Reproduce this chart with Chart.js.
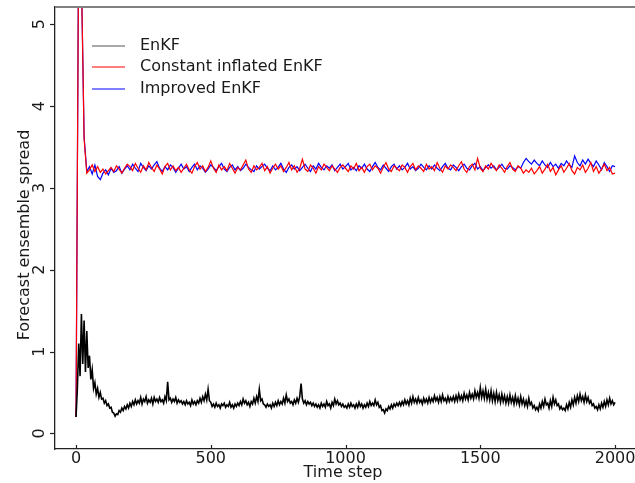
<!DOCTYPE html>
<html lang="en">
<head>
  <meta charset="UTF-8" />
  <title>Forecast ensemble spread</title>
  <script src="https://cdn.jsdelivr.net/npm/chart.js"></script>
  <style>
    * { margin: 0; padding: 0; box-sizing: border-box; }
    body { background: #fff; }
    .wrap { width: 635px; height: 483px; position: relative; }
  </style>
</head>
<body>
  <div class="wrap">
    <canvas id="spreadChart"></canvas>
  </div>

  <script>
    // legend labels
    const seriesNames = ['EnKF', 'Constant inflated EnKF', 'Improved EnKF'];
    const seriesColors = ['#000000', '#ff0000', '#0000ff'];
    const xTicks = [0, 500, 1000, 1500, 2000];
    const yTicks = [0, 1, 2, 3, 4, 5];

    // EnKF spread, one value every 5 time steps (t = 0 .. 2000)
    const enkfStep = 5;
    const enkf = [
      0.20, 0.55, 1.10, 0.70, 1.46, 0.85, 1.38, 0.75, 1.25, 0.80, 0.95, 0.66, 0.78, 0.55, 0.62, 0.48, 0.55, 0.44, 0.50, 0.42,
      0.43, 0.37, 0.40, 0.34, 0.36, 0.31, 0.32, 0.26, 0.25, 0.21, 0.24, 0.23, 0.28, 0.26, 0.31, 0.28, 0.33, 0.30, 0.35, 0.31,
      0.37, 0.33, 0.39, 0.35, 0.41, 0.36, 0.40, 0.37, 0.44, 0.36, 0.42, 0.39, 0.45, 0.37, 0.41, 0.38, 0.43, 0.36, 0.44, 0.39,
      0.42, 0.38, 0.44, 0.39, 0.41, 0.37, 0.45, 0.40, 0.63, 0.41, 0.43, 0.38, 0.42, 0.39, 0.44, 0.37, 0.41, 0.38, 0.40, 0.36,
      0.39, 0.35, 0.40, 0.36, 0.38, 0.34, 0.41, 0.36, 0.39, 0.35, 0.40, 0.37, 0.43, 0.38, 0.45, 0.40, 0.48, 0.41, 0.54, 0.40,
      0.38, 0.33, 0.36, 0.32, 0.37, 0.33, 0.35, 0.31, 0.36, 0.34, 0.37, 0.32, 0.35, 0.33, 0.38, 0.32, 0.35, 0.31, 0.36, 0.33,
      0.37, 0.34, 0.39, 0.35, 0.42, 0.37, 0.40, 0.35, 0.38, 0.33, 0.39, 0.36, 0.43, 0.37, 0.45, 0.39, 0.54, 0.40, 0.42, 0.36,
      0.35, 0.32, 0.36, 0.33, 0.35, 0.31, 0.37, 0.33, 0.38, 0.34, 0.40, 0.35, 0.39, 0.36, 0.43, 0.37, 0.47, 0.39, 0.42, 0.37,
      0.39, 0.35, 0.41, 0.37, 0.43, 0.38, 0.45, 0.61, 0.42, 0.37, 0.40, 0.35, 0.39, 0.36, 0.38, 0.34, 0.37, 0.33, 0.36, 0.32,
      0.35, 0.31, 0.37, 0.33, 0.36, 0.32, 0.39, 0.34, 0.36, 0.31, 0.38, 0.34, 0.42, 0.36, 0.40, 0.35, 0.37, 0.33, 0.36, 0.32,
      0.34, 0.31, 0.36, 0.32, 0.37, 0.33, 0.35, 0.31, 0.36, 0.32, 0.38, 0.33, 0.36, 0.31, 0.35, 0.32, 0.37, 0.33, 0.39, 0.34,
      0.37, 0.34, 0.41, 0.35, 0.38, 0.32, 0.34, 0.28, 0.29, 0.25, 0.30, 0.28, 0.33, 0.30, 0.35, 0.31, 0.36, 0.33, 0.37, 0.34,
      0.38, 0.34, 0.39, 0.35, 0.41, 0.36, 0.40, 0.35, 0.43, 0.37, 0.45, 0.38, 0.42, 0.37, 0.44, 0.38, 0.41, 0.36, 0.43, 0.38,
      0.42, 0.37, 0.44, 0.38, 0.43, 0.39, 0.46, 0.40, 0.44, 0.38, 0.45, 0.39, 0.47, 0.40, 0.43, 0.38, 0.45, 0.39, 0.44, 0.40,
      0.45, 0.39, 0.46, 0.40, 0.48, 0.41, 0.46, 0.40, 0.49, 0.42, 0.47, 0.41, 0.50, 0.43, 0.48, 0.42, 0.52, 0.44, 0.50, 0.43,
      0.56, 0.44, 0.52, 0.43, 0.54, 0.42, 0.50, 0.41, 0.52, 0.40, 0.49, 0.39, 0.50, 0.40, 0.47, 0.38, 0.48, 0.39, 0.46, 0.37,
      0.45, 0.37, 0.47, 0.38, 0.44, 0.36, 0.46, 0.37, 0.43, 0.35, 0.45, 0.36, 0.42, 0.34, 0.40, 0.33, 0.43, 0.35, 0.38, 0.31,
      0.34, 0.29, 0.32, 0.28, 0.36, 0.31, 0.39, 0.33, 0.42, 0.35, 0.37, 0.31, 0.40, 0.33, 0.44, 0.36, 0.41, 0.34, 0.36, 0.30,
      0.33, 0.29, 0.31, 0.28, 0.35, 0.30, 0.38, 0.32, 0.41, 0.35, 0.44, 0.37, 0.46, 0.39, 0.48, 0.40, 0.45, 0.38, 0.47, 0.39,
      0.44, 0.37, 0.40, 0.34, 0.36, 0.31, 0.33, 0.29, 0.35, 0.30, 0.37, 0.32, 0.39, 0.33, 0.41, 0.35, 0.43, 0.36, 0.40, 0.35,
      0.38
    ];

    // constant inflated / improved EnKF, one value every 10 time steps
    const inflStep = 10;
    const constInfl = [
      0.20, 6.20, 5.60, 3.60, 3.18, 3.22, 3.28, 3.20, 3.26, 3.19, 3.23, 3.17, 3.21, 3.25, 3.20, 3.27, 3.23, 3.18, 3.24, 3.29,
      3.26, 3.21, 3.30, 3.24, 3.19, 3.27, 3.22, 3.31, 3.25, 3.20, 3.28, 3.23, 3.17, 3.26, 3.30, 3.22, 3.27, 3.21, 3.25, 3.19,
      3.24, 3.29, 3.22, 3.18, 3.26, 3.31, 3.23, 3.27, 3.20, 3.25, 3.33, 3.24, 3.19, 3.28, 3.22, 3.26, 3.21, 3.30, 3.24, 3.18,
      3.25, 3.22, 3.28, 3.34, 3.23, 3.19, 3.27, 3.22, 3.25, 3.30, 3.21, 3.26, 3.18, 3.24, 3.29, 3.23, 3.27, 3.20, 3.25, 3.31,
      3.22, 3.27, 3.19, 3.24, 3.35, 3.23, 3.20, 3.28, 3.24, 3.18, 3.26, 3.22, 3.29, 3.25, 3.21, 3.27, 3.23, 3.19, 3.25, 3.28,
      3.24, 3.20, 3.27, 3.23, 3.30, 3.21, 3.25, 3.19, 3.26, 3.29, 3.22, 3.27, 3.24, 3.18, 3.25, 3.31, 3.23, 3.20, 3.27, 3.24,
      3.21, 3.28, 3.25, 3.19, 3.26, 3.30, 3.22, 3.27, 3.24, 3.20, 3.29, 3.23, 3.26, 3.21, 3.31, 3.24, 3.19, 3.27, 3.23, 3.28,
      3.25, 3.21, 3.27, 3.32, 3.23, 3.19, 3.26, 3.29, 3.22, 3.36, 3.24, 3.20, 3.27, 3.23, 3.30, 3.25, 3.21, 3.28, 3.24, 3.19,
      3.26, 3.31, 3.23, 3.20, 3.27, 3.24, 3.18, 3.22, 3.19, 3.24, 3.17, 3.21, 3.26, 3.18, 3.23, 3.29, 3.20, 3.25, 3.16, 3.22,
      3.27, 3.19, 3.24, 3.30, 3.21, 3.17, 3.25, 3.22, 3.28, 3.19, 3.24, 3.31, 3.20, 3.26, 3.18, 3.23, 3.29, 3.21, 3.25, 3.17,
      3.18
    ];
    const improved = [
      0.20, 6.20, 5.60, 3.62, 3.20, 3.26, 3.17, 3.28, 3.14, 3.10, 3.18, 3.22, 3.16, 3.24, 3.19, 3.21, 3.26, 3.18, 3.23, 3.27,
      3.22, 3.29, 3.24, 3.20, 3.30, 3.25, 3.21, 3.27, 3.23, 3.28, 3.32, 3.24, 3.20, 3.26, 3.22, 3.28, 3.25, 3.19, 3.24, 3.29,
      3.23, 3.26, 3.20, 3.25, 3.29, 3.22, 3.27, 3.24, 3.19, 3.23, 3.28, 3.25, 3.21, 3.26, 3.30, 3.23, 3.20, 3.25, 3.28, 3.22,
      3.26, 3.21, 3.24, 3.29, 3.25, 3.22, 3.20, 3.27, 3.23, 3.26, 3.29, 3.24, 3.21, 3.27, 3.22, 3.25, 3.30, 3.23, 3.19, 3.25,
      3.28, 3.23, 3.26, 3.21, 3.25, 3.29, 3.24, 3.20, 3.27, 3.23, 3.30, 3.25, 3.22, 3.27, 3.24, 3.28, 3.21, 3.25, 3.29, 3.23,
      3.26, 3.30, 3.22, 3.25, 3.21, 3.27, 3.24, 3.29, 3.23, 3.20, 3.26, 3.31, 3.25, 3.22, 3.28, 3.24, 3.20, 3.26, 3.29, 3.23,
      3.27, 3.22, 3.25, 3.30, 3.23, 3.26, 3.21, 3.24, 3.29, 3.25, 3.22, 3.27, 3.23, 3.28, 3.24, 3.21, 3.26, 3.30, 3.24, 3.22,
      3.28, 3.25, 3.21, 3.26, 3.29, 3.24, 3.22, 3.27, 3.30, 3.23, 3.26, 3.21, 3.25, 3.28, 3.24, 3.27, 3.22, 3.25, 3.29, 3.24,
      3.23, 3.27, 3.25, 3.22, 3.26, 3.24, 3.31, 3.36, 3.32, 3.29, 3.34, 3.30, 3.27, 3.33, 3.28, 3.25, 3.31, 3.26, 3.29, 3.24,
      3.30, 3.27, 3.33, 3.28, 3.25, 3.39, 3.31, 3.27, 3.34, 3.29, 3.35, 3.30, 3.26, 3.33, 3.28, 3.22, 3.31, 3.26, 3.20, 3.27,
      3.26
    ];

    const toPoints = (vals, step) => vals.map((v, i) => ({ x: i * step, y: v }));

    const FONT = '"DejaVu Sans", sans-serif';
    const TEXT = '#1a1a1a';

    // axes text, ticks, top frame line and the legend
    const decorations = {
      id: 'decorations',
      afterDraw(chart) {
        const { ctx, chartArea, scales } = chart;
        const xs = scales.x, ys = scales.y;
        ctx.save();

        ctx.strokeStyle = '#808080';
        ctx.lineWidth = 2;
        ctx.beginPath();
        ctx.moveTo(chartArea.left, chartArea.top);
        ctx.lineTo(chartArea.right, chartArea.top);
        ctx.stroke();

        ctx.strokeStyle = '#222';
        ctx.lineWidth = 1.2;
        xTicks.forEach(t => {
          const px = Math.round(xs.getPixelForValue(t)) + 0.5;
          ctx.beginPath();
          ctx.moveTo(px, chartArea.bottom);
          ctx.lineTo(px, chartArea.bottom - 4);
          ctx.stroke();
        });
        yTicks.forEach(v => {
          const py = Math.round(ys.getPixelForValue(v)) + 0.5;
          ctx.beginPath();
          ctx.moveTo(chartArea.left, py);
          ctx.lineTo(chartArea.left - 5, py);
          ctx.stroke();
        });

        ctx.fillStyle = TEXT;
        ctx.font = '16px ' + FONT;
        ctx.textAlign = 'center';
        ctx.textBaseline = 'middle';
        xTicks.forEach(t => ctx.fillText(String(t), xs.getPixelForValue(t), 459));
        yTicks.forEach(v => {
          ctx.save();
          ctx.translate(40, ys.getPixelForValue(v));
          ctx.rotate(-Math.PI / 2);
          ctx.fillText(String(v), 0, 0);
          ctx.restore();
        });

        ctx.fillText('Time step', 343, 473);
        ctx.save();
        ctx.translate(25, 235);
        ctx.rotate(-Math.PI / 2);
        ctx.fillText('Forecast ensemble spread', 0, 0);
        ctx.restore();

        const legendY = [46, 67, 89];
        ctx.textAlign = 'left';
        seriesNames.forEach((name, i) => {
          ctx.beginPath();
          ctx.strokeStyle = i === 0 ? '#555555' : seriesColors[i];
          ctx.lineWidth = 1.2;
          ctx.moveTo(92, legendY[i]);
          ctx.lineTo(125, legendY[i]);
          ctx.stroke();
          ctx.fillText(name, 140, legendY[i]);
        });

        ctx.restore();
      }
    };

    new Chart(document.getElementById('spreadChart'), {
      type: 'line',
      data: {
        datasets: [
          {
            label: seriesNames[0],
            data: toPoints(enkf, enkfStep),
            borderColor: seriesColors[0],
            borderWidth: 1.6
          },
          {
            label: seriesNames[1],
            data: toPoints(constInfl, inflStep),
            borderColor: seriesColors[1],
            borderWidth: 1.2
          },
          {
            label: seriesNames[2],
            data: toPoints(improved, inflStep),
            borderColor: seriesColors[2],
            borderWidth: 1.2
          }
        ]
      },
      options: {
        responsive: true,
        maintainAspectRatio: false,
        animation: false,
        events: [],
        elements: { point: { radius: 0 }, line: { tension: 0 } },
        layout: { padding: { top: 7, right: 0, bottom: 0, left: 0 } },
        plugins: { legend: { display: false }, tooltip: { enabled: false } },
        scales: {
          x: {
            type: 'linear',
            min: -78,
            max: 2074,
            ticks: { display: false },
            grid: { display: false },
            border: { display: true, color: '#222', width: 1.3 },
            afterFit(scale) { scale.height = 34; }
          },
          y: {
            min: -0.19,
            max: 5.21,
            ticks: { display: false },
            grid: { display: false },
            border: { display: true, color: '#222', width: 1.3 },
            afterFit(scale) { scale.width = 55; }
          }
        }
      },
      plugins: [decorations]
    });
  </script>
</body>
</html>
